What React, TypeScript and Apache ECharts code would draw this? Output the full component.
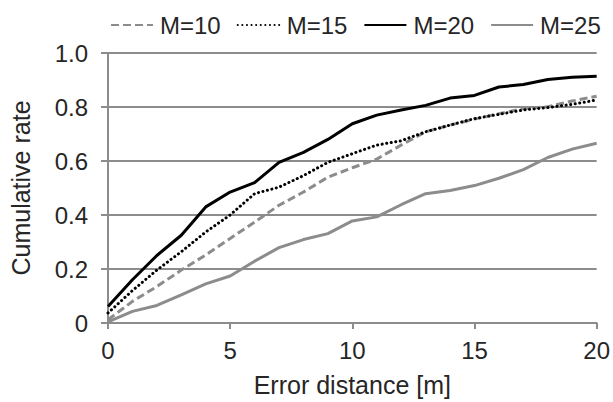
import React, { useEffect, useRef } from "react";
import * as echarts from "echarts";

const distances = [0, 1, 2, 3, 4, 5, 6, 7, 8, 9, 10, 11, 12, 13, 14, 15, 16, 17, 18, 19, 20];
const m10 = [0.012, 0.08, 0.135, 0.196, 0.252, 0.313, 0.374, 0.436, 0.485, 0.54, 0.575, 0.607, 0.659, 0.708, 0.733, 0.755, 0.775, 0.794, 0.801, 0.822, 0.84];
const m15 = [0.037, 0.12, 0.196, 0.264, 0.337, 0.4, 0.479, 0.503, 0.546, 0.595, 0.627, 0.659, 0.675, 0.708, 0.733, 0.757, 0.773, 0.789, 0.798, 0.81, 0.826];
const m20 = [0.061, 0.16, 0.25, 0.325, 0.43, 0.485, 0.52, 0.595, 0.632, 0.68, 0.738, 0.77, 0.789, 0.806, 0.833, 0.843, 0.874, 0.883, 0.902, 0.91, 0.914];
const m25 = [0.004, 0.043, 0.065, 0.104, 0.145, 0.174, 0.229, 0.279, 0.309, 0.331, 0.378, 0.393, 0.438, 0.479, 0.491, 0.509, 0.536, 0.568, 0.613, 0.644, 0.666];
const seriesNames = ["M=10", "M=15", "M=20", "M=25"];

const FONT = "'Liberation Sans', Arial, sans-serif";
const TEXT = "#262626";
const AXIS = "#8c8c8c";
const GRAY = "#8c8c8c";

function pairs(vals: number[]) {
  return distances.map((d, i) => [d, vals[i]]);
}

export default function App() {
  const ref = useRef<HTMLDivElement>(null);
  useEffect(() => {
    if (!ref.current) return;
    const chart = echarts.init(ref.current, undefined, { renderer: "svg" });
    chart.setOption({
      animation: false,
      backgroundColor: "#ffffff",
      textStyle: { fontFamily: FONT },
      grid: { left: 107, right: 13, top: 53, bottom: 77 },
      legend: {
        data: seriesNames,
        left: 105,
        top: 8,
        itemWidth: 42,
        itemHeight: 14,
        itemGap: 16,
        itemStyle: { opacity: 0 },
        textStyle: { fontSize: 24, color: TEXT, fontFamily: FONT, padding: [0, 0, 0, 2] },
      },
      xAxis: {
        type: "value",
        min: 0,
        max: 20,
        interval: 5,
        name: "Error distance [m]",
        nameLocation: "middle",
        nameGap: 49,
        nameTextStyle: { fontSize: 25, color: TEXT, fontFamily: FONT },
        axisLine: { show: true, lineStyle: { color: AXIS, width: 2 } },
        axisTick: { show: true, length: 6, lineStyle: { color: AXIS, width: 2 } },
        axisLabel: { fontSize: 24, color: TEXT, margin: 15, fontFamily: FONT },
        splitLine: { show: false },
      },
      yAxis: {
        type: "value",
        min: 0,
        max: 1,
        interval: 0.2,
        name: "Cumulative rate",
        nameLocation: "middle",
        nameRotate: 90,
        nameGap: 75,
        nameTextStyle: { fontSize: 25, color: TEXT, fontFamily: FONT },
        axisLine: { show: true, lineStyle: { color: AXIS, width: 2 } },
        axisTick: { show: true, length: 7, lineStyle: { color: AXIS, width: 2 } },
        axisLabel: {
          fontSize: 24,
          color: TEXT,
          margin: 20,
          fontFamily: FONT,
          formatter: (v: number) => (v === 0 ? "0" : v.toFixed(1)),
        },
        splitLine: { show: true, lineStyle: { color: AXIS, width: 2 } },
      },
      series: [
        {
          name: "M=10",
          type: "line",
          data: pairs(m10),
          symbol: "none",
          lineStyle: { color: GRAY, width: 3, type: [8, 4] },
          itemStyle: { color: GRAY },
        },
        {
          name: "M=15",
          type: "line",
          data: pairs(m15),
          symbol: "none",
          lineStyle: { color: "#000000", width: 3, type: [0.1, 4.5], cap: "round" },
          itemStyle: { color: "#000000" },
        },
        {
          name: "M=20",
          type: "line",
          data: pairs(m20),
          symbol: "none",
          lineStyle: { color: "#000000", width: 3 },
          itemStyle: { color: "#000000" },
        },
        {
          name: "M=25",
          type: "line",
          data: pairs(m25),
          symbol: "none",
          lineStyle: { color: GRAY, width: 3 },
          itemStyle: { color: GRAY },
        },
      ],
    });
    return () => chart.dispose();
  }, []);
  return (
    <div
      ref={ref}
      style={{ position: "fixed", left: 0, top: 0, width: 613, height: 402 }}
    />
  );
}
